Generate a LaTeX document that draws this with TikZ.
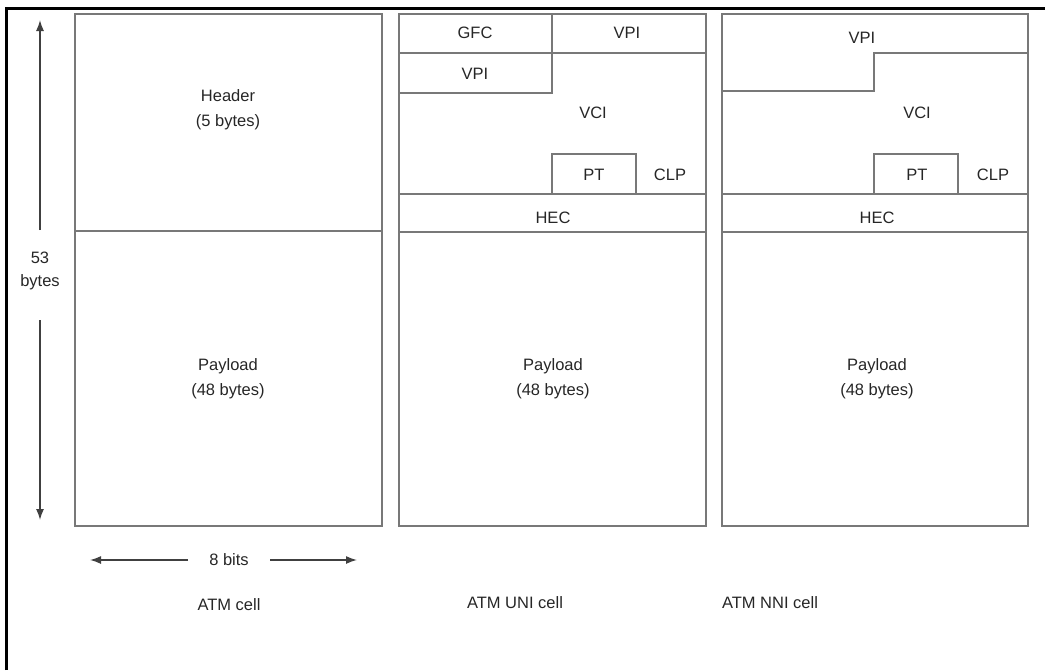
\documentclass[tikz,border=0pt]{standalone}
\usepackage{fontspec}
\setmainfont{Liberation Sans}
\usetikzlibrary{arrows.meta}
\definecolor{linegray}{rgb}{0.47,0.47,0.47}
\begin{document}
\begin{tikzpicture}[x=1pt,y=-1pt,
  box/.style={draw=linegray, line width=1.4pt},
  lbl/.style={font=\fontsize{16.5}{25}\selectfont, inner sep=0pt, align=center, text=black!85},
  dim/.style={draw=black!75, line width=1.4pt, -{Latex[length=11pt,width=8pt]}}]
\useasboundingbox (0,0) rectangle (1045,670);
\draw[black, line width=3pt] (6,670) -- (6,8) -- (1045,8);

% ATM cell
\draw[box] (75,14) rectangle (382,526);
\draw[box] (75,231) -- (382,231);
\node[lbl] (hdr) at (228,110) {Header\\(5 bytes)};
\node[lbl] (pl1) at (228,379) {Payload\\(48 bytes)};

% ATM UNI cell
\draw[box] (399,14) rectangle (706,526);
\draw[box] (399,14) rectangle (552,53);
\draw[box] (552,53) -- (706,53);
\draw[box] (399,53) rectangle (552,93);
\draw[box] (552,154) rectangle (636,194);
\draw[box] (636,154) -- (636,194);
\draw[box] (399,194) -- (706,194);
\draw[box] (399,232) -- (706,232);
\node[lbl] (gfc) at (475,33) {GFC};
\node[lbl] (vpiu1) at (627,33) {VPI};
\node[lbl] (vpiu2) at (475,74) {VPI};
\node[lbl] (vciu) at (593,113) {VCI};
\node[lbl] (ptu) at (594,175) {PT};
\node[lbl] (clpu) at (670,175) {CLP};
\node[lbl] (hecu) at (553,218) {HEC};
\node[lbl] (pl2) at (553,379) {Payload\\(48 bytes)};

% ATM NNI cell
\draw[box] (722,14) rectangle (1028,526);
\draw[box] (722,91) -- (874,91) -- (874,53) -- (1028,53);
\draw[box] (874,154) rectangle (958,194);
\draw[box] (722,194) -- (1028,194);
\draw[box] (722,232) -- (1028,232);
\node[lbl] (vpin) at (862,38) {VPI};
\node[lbl] (vcin) at (917,113) {VCI};
\node[lbl] (ptn) at (917,175) {PT};
\node[lbl] (clpn) at (993,175) {CLP};
\node[lbl] (hecn) at (877,218) {HEC};
\node[lbl] (pl3) at (877,379) {Payload\\(48 bytes)};

% dimensions
\node[lbl, font=\fontsize{16.5}{23}\selectfont] (b53) at (40,271) {53\\bytes};
\coordinate (upS) at (40,230);
\coordinate (upE) at (40,20);
\coordinate (dnS) at (40,320);
\coordinate (dnE) at (40,520);
\draw[dim] (upS) -- (upE);
\draw[dim] (dnS) -- (dnE);
\node[lbl] (bits) at (229,560) {8 bits};
\coordinate (lS) at (188,560);
\coordinate (lE) at (90,560);
\coordinate (rS) at (270,560);
\coordinate (rE) at (357,560);
\draw[dim] (lS) -- (lE);
\draw[dim] (rS) -- (rE);

% captions
\node[lbl] (c1) at (229,605) {ATM cell};
\node[lbl] (c2) at (515,603) {ATM UNI cell};
\node[lbl] (c3) at (770,603) {ATM NNI cell};
\end{tikzpicture}
\end{document}
